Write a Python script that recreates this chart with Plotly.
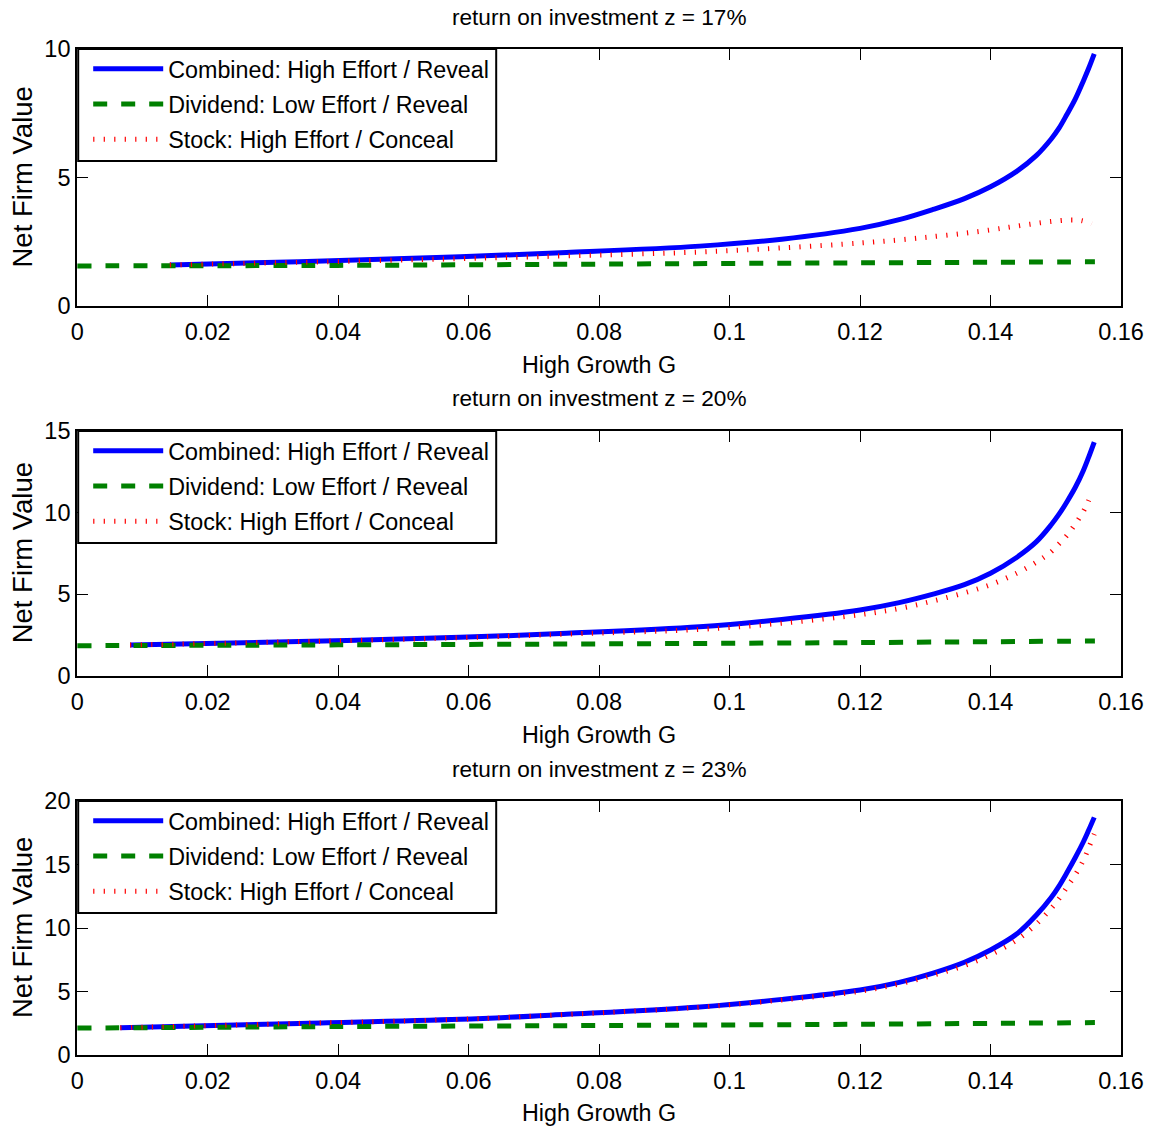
import plotly.graph_objects as go

# ---------------- data ----------------
titles = ["return on investment z = 17%", "return on investment z = 20%", "return on investment z = 23%"]
names = ["Combined: High Effort / Reveal", "Dividend: Low Effort / Reveal", "Stock: High Effort / Conceal"]

G_std = [0.034, 0.0587, 0.075, 0.0954, 0.108, 0.12, 0.126, 0.1312, 0.136, 0.14, 0.144, 0.147,
         0.1493, 0.1505, 0.1517, 0.153, 0.1542, 0.155, 0.1559]

# panel 1 (z = 17%)
G_comb_1 = [0.0142] + G_std
V_comb_1 = [1.60, 1.72, 1.92, 2.08, 2.33, 2.60, 3.02, 3.36, 3.76, 4.18, 4.64, 5.24, 5.85,
            6.50, 6.92, 7.45, 8.06, 8.74, 9.22, 9.81]
G_stock_1 = [0.0142, 0.034, 0.0587, 0.075, 0.0954, 0.108, 0.12, 0.126, 0.1312, 0.136, 0.14,
             0.143, 0.146, 0.149, 0.1524, 0.154, 0.1555]
V_stock_1 = [1.60, 1.70, 1.84, 1.95, 2.10, 2.26, 2.45, 2.57, 2.70, 2.83, 2.96,
             3.07, 3.18, 3.28, 3.35, 3.32, 3.20]
G_div = [0.0, 0.04, 0.08, 0.12, 0.156]
V_div_1 = [1.56, 1.58, 1.63, 1.68, 1.72]

# panel 2 (z = 20%)
G_comb_2 = [0.0081] + G_std
V_comb_2 = [1.88, 2.09, 2.35, 2.60, 3.00, 3.45, 4.03, 4.48, 5.00, 5.58, 6.28, 7.25, 8.20,
            9.25, 9.90, 10.65, 11.55, 12.55, 13.35, 14.32]
G_stock_2 = [0.0081, 0.034, 0.0587, 0.075, 0.0954, 0.108, 0.12, 0.126, 0.1312, 0.136, 0.14, 0.144,
             0.147, 0.1493, 0.1505, 0.1517, 0.153, 0.1542, 0.155, 0.1555]
V_stock_2 = [1.88, 2.09, 2.33, 2.55, 2.84, 3.22, 3.74, 4.12, 4.58, 5.08, 5.58, 6.28,
             6.95, 7.60, 8.08, 8.60, 9.30, 10.05, 10.70, 11.18]
V_div_2 = [1.84, 1.89, 1.95, 2.03, 2.13]

# panel 3 (z = 23%)
G_comb_3 = [0.0066] + G_std
V_comb_3 = [2.15, 2.49, 2.81, 3.20, 3.78, 4.38, 5.12, 5.72, 6.45, 7.30, 8.27, 9.52, 11.00,
            12.40, 13.30, 14.35, 15.55, 16.75, 17.65, 18.71]
G_stock_3 = [0.0066] + G_std
V_stock_3 = [2.15, 2.49, 2.81, 3.19, 3.76, 4.33, 5.02, 5.60, 6.28, 7.05, 7.90, 9.05, 10.30,
             11.55, 12.30, 13.20, 14.20, 15.30, 16.25, 17.40]
V_div_3 = [2.12, 2.24, 2.32, 2.42, 2.55]

y_max = [10, 15, 20]
y_ticks = [[0, 5, 10], [0, 5, 10, 15], [0, 5, 10, 15, 20]]
x_ticks = [0, 0.02, 0.04, 0.06, 0.08, 0.1, 0.12, 0.14, 0.16]
x_ticktext = ["0", "0.02", "0.04", "0.06", "0.08", "0.1", "0.12", "0.14", "0.16"]

panels = [
    (G_comb_1, V_comb_1, V_div_1, G_stock_1, V_stock_1),
    (G_comb_2, V_comb_2, V_div_2, G_stock_2, V_stock_2),
    (G_comb_3, V_comb_3, V_div_3, G_stock_3, V_stock_3),
]

# ---------------- layout geometry (pixels) ----------------
W, H = 1153, 1133
FONT = "Liberation Sans, Arial, sans-serif"
FS = 23.5
x_left, x_right = 77.2, 1121.0
panel_px = [(49, 306), (431, 675.7), (801, 1055)]
title_y = [17, 399, 769]
xlabel_y = [365, 735, 1113]
legend_box_w, legend_box_h = 418, 112

def py(p):
    return 1 - p / H

fig = go.Figure()
annotations = []
shapes = []
layout_axes = {}

for i, (gc, vc, vd, gs, vs) in enumerate(panels):
    n = i + 1
    xa = "x" if n == 1 else f"x{n}"
    ya = "y" if n == 1 else f"y{n}"
    lg = "legend" if n == 1 else f"legend{n}"
    fig.add_trace(go.Scatter(x=gc, y=vc, mode="lines", name=names[0], xaxis=xa, yaxis=ya,
                             legend=lg, legendgroup=f"c{n}",
                             line=dict(color="rgb(0,0,255)", width=5, shape="spline", smoothing=1.0)))
    fig.add_trace(go.Scatter(x=G_div, y=vd, mode="lines", name=names[1], xaxis=xa, yaxis=ya,
                             legend=lg, legendgroup=f"d{n}",
                             line=dict(color="rgb(0,128,0)", width=5, dash="14px,14px", shape="spline")))
    fig.add_trace(go.Scatter(x=gs, y=vs, mode="lines", name=names[2], xaxis=xa, yaxis=ya,
                             legend=lg, legendgroup=f"s{n}",
                             line=dict(color="rgb(255,0,0)", width=5, dash="1.2px,9.3px", shape="spline", smoothing=1.0)))

    top, bot = panel_px[i]
    ax_common = dict(showline=True, linecolor="black", linewidth=2, mirror="allticks",
                     ticks="inside", ticklen=11, tickwidth=1, tickcolor="black",
                     showgrid=False, zeroline=False, automargin=False,
                     tickfont=dict(family=FONT, size=FS, color="black"))
    layout_axes["xaxis" if n == 1 else f"xaxis{n}"] = dict(
        ax_common, domain=[x_left / W, x_right / W], range=[0, 0.16],
        tickvals=x_ticks, ticktext=x_ticktext, anchor=ya, ticklabelstandoff=4)
    layout_axes["yaxis" if n == 1 else f"yaxis{n}"] = dict(
        ax_common, domain=[py(bot), py(top)], range=[0, y_max[i]],
        tickvals=y_ticks[i], anchor=xa, ticklabelstandoff=0)
    layout_axes[lg] = dict(x=(x_left + 11) / W, y=py(top - 2), xanchor="left", yanchor="top",
                           bgcolor="rgba(0,0,0,0)", borderwidth=0,
                           font=dict(family=FONT, size=23.3, color="black"),
                           itemwidth=70, tracegroupgap=2)
    shapes.append(dict(type="rect", xref="paper", yref="paper",
                       x0=(x_left + 1) / W, x1=(x_left + 1 + legend_box_w) / W,
                       y0=py(top + legend_box_h), y1=py(top),
                       fillcolor="white", line=dict(color="black", width=2), layer="above"))

    annotations.append(dict(text=titles[i], x=(x_left + x_right) / 2 / W, y=py(title_y[i]),
                            xref="paper", yref="paper", showarrow=False, xanchor="center", yanchor="middle",
                            font=dict(family=FONT, size=22.6, color="black")))
    annotations.append(dict(text="High Growth G", x=(x_left + x_right) / 2 / W, y=py(xlabel_y[i]),
                            xref="paper", yref="paper", showarrow=False, xanchor="center", yanchor="middle",
                            font=dict(family=FONT, size=23.3, color="black")))
    annotations.append(dict(text="Net Firm Value", x=22 / W, y=py((top + bot) / 2),
                            xref="paper", yref="paper", showarrow=False, xanchor="center", yanchor="middle",
                            textangle=-90, font=dict(family=FONT, size=27.5, color="black")))

fig.update_layout(width=W, height=H, margin=dict(l=0, r=0, t=0, b=0, autoexpand=False),
                  template="none", paper_bgcolor="white", plot_bgcolor="white",
                  annotations=annotations, shapes=shapes, showlegend=True, **layout_axes)

fig.write_html("out.html")
